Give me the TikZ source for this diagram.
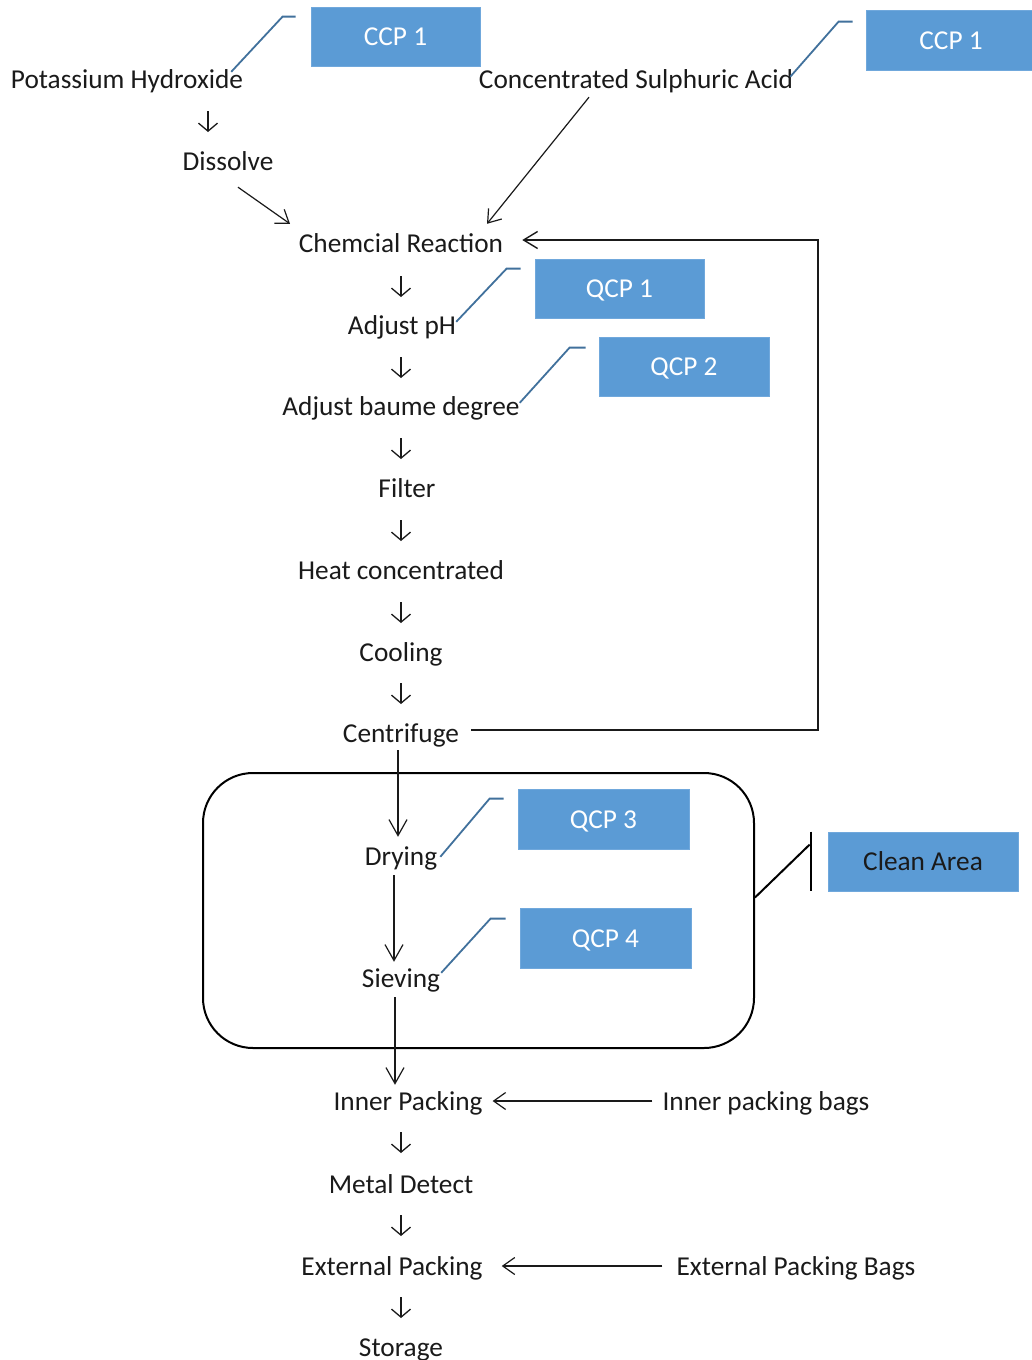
\documentclass[tikz,border=0pt]{standalone}
\usepackage{fontspec}
\setmainfont{Carlito}
\usetikzlibrary{arrows.meta,calc}
\definecolor{boxblue}{HTML}{5B9BD5}
\definecolor{boxedge}{HTML}{70A8DC}
\definecolor{callblue}{HTML}{41719C}
\definecolor{ink}{HTML}{1A1A1A}
\tikzset{
  txt/.style={font=\fontsize{27.3}{32}\selectfont, text=ink, inner sep=0pt, text height=21pt, text depth=3pt},
  cbox/.style={txt, fill=boxblue, draw=boxedge, line width=0.8pt, text=white, minimum height=59pt},
  glyph/.style={line width=1.3pt, ink, -{Straight Barb[length=8pt,width=19pt,line width=1.3pt]}},
  flow/.style={line width=1.2pt, ink, -{Straight Barb[length=12pt,width=17pt,line width=1.2pt]}},
  callout/.style={line width=1.8pt, callblue},
  bracket/.style={line width=2pt, black}
}
\begin{document}
\begin{tikzpicture}[x=1pt,y=-1pt]
\useasboundingbox (0,0) rectangle (1032,1360);
\fill[white] (0,0) rectangle (1032,1360);

% process texts
\node[txt] (pk)  at (127,79)  {Potassium Hydroxide};
\node[txt] (csa) at (636,79)  {Concentrated Sulphuric Acid};
\node[txt] (dis) at (228,161) {Dissolve};
\node[txt] (cr)  at (401,243) {Chemcial Reaction};
\node[txt] (ph)  at (402,325) {Adjust pH};
\node[txt] (bd)  at (401,406) {Adjust baume degree};
\node[txt] (fi)  at (407,488) {Filter};
\node[txt] (hc)  at (401,570) {Heat concentrated};
\node[txt] (co)  at (401,652) {Cooling};
\node[txt] (ce)  at (401,733) {Centrifuge};
\node[txt] (dr)  at (401,856) {Drying};
\node[txt] (si)  at (401,978) {Sieving};
\node[txt] (ip)  at (408,1101) {Inner Packing};
\node[txt] (md)  at (401,1184) {Metal Detect};
\node[txt] (ep)  at (392,1266) {External Packing};
\node[txt] (st)  at (401,1347) {Storage};
\node[txt] (ipb) at (766,1101) {Inner packing bags};
\node[txt] (epb) at (796,1266) {External Packing Bags};

% clean area enclosure
\node[draw=black, line width=2pt, rounded corners=50pt, minimum width=551pt, minimum height=275pt, inner sep=0pt] (area) at (478.5,910.5) {};

% blue boxes
\node[cbox, minimum width=169pt] (ccpa) at (395.5,36.5) {CCP 1};
\node[cbox, minimum width=170pt, minimum height=60pt] (ccpb) at (951,40) {CCP 1};
\node[cbox, minimum width=169pt] (qcp1) at (619.5,288.5) {QCP 1};
\node[cbox, minimum width=170pt] (qcp2) at (684,366.5) {QCP 2};
\node[cbox, minimum width=171pt, minimum height=60pt] (qcp3) at (603.5,819) {QCP 3};
\node[cbox, minimum width=171pt, minimum height=60pt] (qcp4) at (605.5,938) {QCP 4};
\node[cbox, minimum width=190pt, text=ink] (clean) at (923,861.5) {Clean Area};

% callout lines
\draw[callout] ([xshift=-15pt,yshift=-10pt]ccpa.north west) -- ++(-13,0) -- ([xshift=-12pt,yshift=-5pt]pk.north east);
\draw[callout] ([xshift=-13pt,yshift=-12pt]ccpb.north west) -- ++(-14,0) -- ([xshift=-3pt,yshift=-10pt]csa.north east);
\draw[callout] ([xshift=-14pt,yshift=-10pt]qcp1.north west) -- ++(-14,0) -- ([xshift=0pt,yshift=-9pt]ph.north east);
\draw[callout] ([xshift=-13pt,yshift=-11pt]qcp2.north west) -- ++(-16,0) -- ([xshift=0pt,yshift=-9pt]bd.north east);
\draw[callout] ([xshift=-14pt,yshift=-10pt]qcp3.north west) -- ++(-14,0) -- ([xshift=3pt,yshift=-13pt]dr.north east);
\draw[callout] ([xshift=-14pt,yshift=-11pt]qcp4.north west) -- ++(-15,0) -- ([xshift=1pt,yshift=-7pt]si.north east);

% clean area bracket
\draw[bracket] ([xshift=-17pt]clean.north west) -- ([xshift=-17pt]clean.south west);
\draw[bracket] ([xshift=-18pt,yshift=-13pt]clean.north west) -- ([yshift=13pt]area.east);

% down-arrow glyphs between steps
\coordinate (g0) at (208,111);
\coordinate (g1) at (401,276);
\coordinate (g2) at (401,357);
\coordinate (g3) at (401,438);
\coordinate (g4) at (401,520);
\coordinate (g5) at (401,602);
\coordinate (g6) at (401,683);
\coordinate (g7) at (401,1132);
\coordinate (g8) at (401,1215);
\coordinate (g9) at (401,1297);
\foreach \g in {g0,g1,g2,g3,g4,g5,g6,g7,g8,g9}
  \draw[glyph] (\g) -- ++(0,21);

% feeds into chemical reaction
\draw[flow] ([xshift=10pt,yshift=-14pt]dis.south) -- ([xshift=-111pt,yshift=7pt]cr.north);
\draw[flow] ([xshift=-47pt,yshift=-6pt]csa.south) -- ([xshift=86pt,yshift=7pt]cr.north);

% recycle loop from centrifuge
\coordinate (fb) at (818,240);
\draw[line width=1.4pt, ink, -{Straight Barb[length=14pt,width=17pt,line width=1.4pt]}]
  ([xshift=12pt,yshift=3pt]ce.east) -| (fb) -- ([xshift=19pt,yshift=3pt]cr.east);

% vertical line through clean area
\coordinate (lx) at (395,0);
\draw[flow, -{Straight Barb[length=16pt,width=18pt,line width=1.2pt]}] ([xshift=-3pt,yshift=-5pt]ce.south) -- ([xshift=-3pt,yshift=7pt]dr.north);
\draw[flow, -{Straight Barb[length=16pt,width=18pt,line width=1.2pt]}] ([xshift=-7pt,yshift=-7pt]dr.south) -- ([xshift=-7pt,yshift=4pt]si.north);
\draw[flow, -{Straight Barb[length=16pt,width=18pt,line width=1.2pt]}] ([yshift=-7pt]si.south -| lx) -- ([yshift=4pt]ip.north -| lx);

% packing material inputs
\draw[flow] ([xshift=-10pt]ipb.west) -- ([xshift=10pt]ip.east);
\draw[flow] ([xshift=-14pt]epb.west) -- ([xshift=19pt]ep.east);
\end{tikzpicture}
\end{document}
